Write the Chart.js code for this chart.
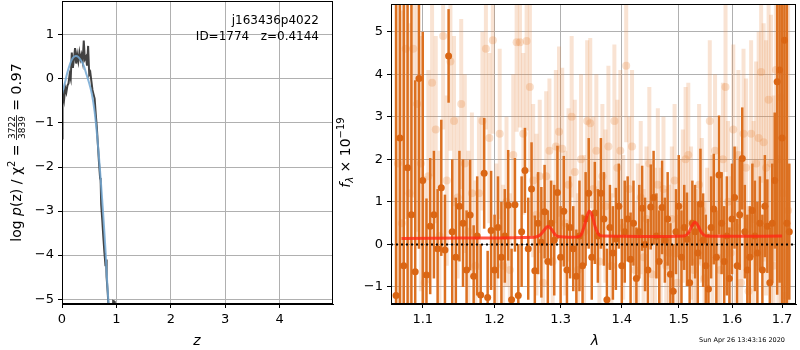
<!DOCTYPE html>
<html>
<head>
<meta charset="utf-8">
<script src="https://cdn.jsdelivr.net/npm/chart.js@4"></script>
<style>
  body { margin: 0; background: #fff; }
  #wrap { position: relative; width: 800px; height: 350px; }
  canvas { position: absolute; top: 0; }
</style>
</head>
<body>
<div id="wrap">
  <canvas id="pz" width="340" height="350" style="left:0"></canvas>
  <canvas id="spec" width="470" height="350" style="left:330px"></canvas>
</div>
<script>
// p(z) panel
const zGrid = [0.00, 0.01, 0.02, 0.04, 0.06, 0.08, 0.10, 0.12, 0.14, 0.16, 0.18, 0.20, 0.22, 0.24, 0.26, 0.28, 0.30, 0.32, 0.34, 0.36, 0.38, 0.40, 0.42, 0.44, 0.46, 0.48, 0.50, 0.52, 0.54, 0.56, 0.58, 0.60, 0.62, 0.64, 0.66, 0.68, 0.70, 0.71, 0.72, 0.74, 0.76, 0.78, 0.79, 0.80, 0.81, 0.82, 0.84, 0.86, 0.88, 0.93, 0.94, 0.96, 0.97];
const logPz = [-1.35, -0.6, -0.25, -0.45, -0.2, -0.3, -0.15, -0.1, 0.1, 0.0, 0.6, 0.25, 0.45, 0.7, 0.35, 0.55, 0.4, 0.6, 0.45, 0.55, 0.4, 0.87, 0.45, 0.5, 0.3, 0.75, 0.1, 0.15, -0.05, -0.25, -0.35, -0.45, -0.8, -1.1, -1.5, -1.9, -2.25, -2.3, -2.85, -3.2, -3.6, -3.95, -4.1, -4.25, -4.1, -4.5, -4.85, -5.3, -5.6, -5.6, -5.04, -5.05, -5.6];
const zFit = [0.00, 0.05, 0.10, 0.15, 0.20, 0.25, 0.30, 0.35, 0.40, 0.45, 0.50, 0.55, 0.60, 0.65, 0.70, 0.75, 0.80, 0.82, 0.85, 0.87];
const logPzFit = [-0.35, -0.1, 0.15, 0.35, 0.48, 0.52, 0.5, 0.42, 0.3, 0.1, -0.1, -0.35, -0.75, -1.35, -2.1, -2.95, -3.9, -4.4, -5.0, -5.4];
const zTicks = [0, 1, 2, 3, 4];

// spectrum panel
const lamDark = [1.065, 1.070, 1.075, 1.080, 1.085, 1.090, 1.095, 1.100, 1.105, 1.110,
  1.115, 1.120, 1.125, 1.130, 1.135, 1.140, 1.145, 1.150, 1.155, 1.160,
  1.165, 1.170, 1.175, 1.180, 1.185, 1.190, 1.195, 1.200, 1.205, 1.210,
  1.215, 1.220, 1.225, 1.230, 1.235, 1.240, 1.245, 1.250, 1.255, 1.260,
  1.265, 1.270, 1.275, 1.280, 1.285, 1.290, 1.295, 1.300, 1.305, 1.310,
  1.315, 1.320, 1.325, 1.330, 1.335, 1.340, 1.345, 1.350, 1.355, 1.360,
  1.365, 1.370, 1.375, 1.380, 1.385, 1.390, 1.395, 1.400, 1.405, 1.410,
  1.415, 1.420, 1.425, 1.430, 1.435, 1.440, 1.445, 1.450, 1.455, 1.460,
  1.465, 1.470, 1.475, 1.480, 1.485, 1.490, 1.495, 1.500, 1.505, 1.510,
  1.515, 1.520, 1.525, 1.530, 1.535, 1.540, 1.545, 1.550, 1.555, 1.560,
  1.565, 1.570, 1.575, 1.580, 1.585, 1.590, 1.595, 1.600, 1.605, 1.610,
  1.615, 1.620, 1.625, 1.630, 1.635, 1.640, 1.645, 1.650, 1.655, 1.660,
  1.665, 1.670, 1.675, 1.680, 1.685, 1.690, 1.695, 1.700, 1.705, 1.710, 1.715];
const fluxDark = [-1.2, 2.5, -0.5, 1.8, 0.7, -0.64, 3.9, 1.5, -0.72, 0.43,
  0.7, -0.1, 1.33, -0.13, 4.43, 0.3, -0.3, 0.9, 0.5, -0.6,
  0.69, -0.75, 0.2, -1.19, 1.67, -1.25, 0.33, -0.6, 0.4, -0.3,
  0.2, 0.92, -1.3, 0.93, -1.2, 0.3, 1.74, -0.1, 1.3, -0.62,
  0.5, 0.05, 0.77, -0.4, 0.5, 0.1, 1.22, -0.3, 0.78, -0.6,
  0.4, -0.1, -0.75, 0.2, -0.5, 0.6, 1.2, -0.3, 0.74, 0.2,
  1.2, 0.6, -1.3, 0.4, -0.2, 0.13, 0.9, -0.5, 0.3, 0.6,
  -0.35, 0.5, -0.8, 0.3, 0.85, 0.0, -0.6, 0.88, 1.1, 0.2,
  -0.4, 0.87, 0.1, 0.6, -0.7, -1.1, 0.3, 0.9, -0.3, 0.4,
  0.12, -0.9, 0.5, 0.3, -0.2, 0.95, 0.1, -0.5, -1.05, 0.4,
  0.83, -0.3, 1.63, 0.5, -0.4, 0.2, -0.8, 0.6, 1.1, -0.5,
  0.7, 2.02, 0.3, -0.6, -0.3, 0.8, 0.2, -0.2, 0.5, -0.6,
  0.9, 0.43, -0.9, 0.5, 1.5, 3.82, 4.1, 2.5, 4.8, 0.5, 0.3];
const errDark = [9, 8, 7, 6, 5, 4.5, 4, 3.5, 1.8, 1.6,
  1.5, 1.4, 1.6, 1.3, 1.1, 1.7, 1.4, 1.3, 1.5, 1.4,
  1.3, 1.2, 1.4, 1.2, 1.3, 1.1, 1.4, 1.3, 1.2, 1.3,
  1.1, 1.3, 1.2, 1.1, 1.2, 1.3, 1.0, 1.2, 1.1, 1.3,
  1.2, 1.3, 1.1, 1.2, 1.0, 1.3, 1.1, 1.2, 1.3, 1.1,
  1.2, 1.0, 1.1, 1.3, 1.2, 1.1, 1.3, 1.0, 1.2, 1.1,
  1.3, 1.1, 1.2, 1.0, 1.1, 1.2, 1.0, 1.1, 1.2, 1.0,
  1.1, 1.0, 1.2, 1.1, 1.0, 1.1, 1.2, 1.0, 1.1, 1.0,
  1.2, 1.1, 1.0, 1.1, 1.2, 1.1, 1.0, 1.2, 1.1, 1.0,
  1.1, 1.2, 1.0, 1.1, 1.2, 1.3, 1.1, 1.2, 1.3, 1.2,
  1.3, 1.1, 1.4, 1.2, 1.3, 1.4, 1.2, 1.3, 1.2, 1.1,
  1.3, 1.2, 1.1, 1.3, 1.2, 1.1, 1.3, 1.2, 1.1, 1.3,
  1.2, 1.1, 1.3, 1.4, 1.6, 5, 5, 6, 7, 8, 1.6];

const lamLight = [1.0675, 1.0725, 1.0775, 1.0825, 1.0875, 1.0925, 1.0975, 1.1025, 1.1075, 1.1125,
  1.1175, 1.1225, 1.1275, 1.1325, 1.1375, 1.1425, 1.1475, 1.1525, 1.1575, 1.1625,
  1.1675, 1.1725, 1.1775, 1.1825, 1.1875, 1.1925, 1.1975, 1.2025, 1.2075, 1.2125,
  1.2175, 1.2225, 1.2275, 1.2325, 1.2375, 1.2425, 1.2475, 1.2525, 1.2575, 1.2625,
  1.2675, 1.2725, 1.2775, 1.2825, 1.2875, 1.2925, 1.2975, 1.3025, 1.3075, 1.3125,
  1.3175, 1.3225, 1.3275, 1.3325, 1.3375, 1.3425, 1.3475, 1.3525, 1.3575, 1.3625,
  1.3675, 1.3725, 1.3775, 1.3825, 1.3875, 1.3925, 1.3975, 1.4025, 1.4075, 1.4125,
  1.4175, 1.4225, 1.4275, 1.4325, 1.4375, 1.4425, 1.4475, 1.4525, 1.4575, 1.4625,
  1.4675, 1.4725, 1.4775, 1.4825, 1.4875, 1.4925, 1.4975, 1.5025, 1.5075, 1.5125,
  1.5175, 1.5225, 1.5275, 1.5325, 1.5375, 1.5425, 1.5475, 1.5525, 1.5575, 1.5625,
  1.5675, 1.5725, 1.5775, 1.5825, 1.5875, 1.5925, 1.5975, 1.6025, 1.6075, 1.6125,
  1.6175, 1.6225, 1.6275, 1.6325, 1.6375, 1.6425, 1.6475, 1.6525, 1.6575, 1.6625,
  1.6675, 1.6725, 1.6775, 1.6825, 1.6875, 1.6925, 1.6975, 1.7025, 1.7075, 1.7125];
const fluxLight = [1.9, 0.5, 4.6, 1.2, 4.6, 3.3, 1.9, -0.9, 1.6, 3.8,
  2.7, 0.2, 4.9, 1.5, 4.3, 2.9, 1.1, 3.3, 1.9, 0.3,
  1.2, -0.5, 1.2, 2.9, 4.6, 2.5, 4.8, 0.1, 2.6, -0.5,
  1.0, -0.6, 2.1, 4.75, 4.75, 2.6, 4.78, 3.7, 1.5, 0.7,
  1.6, -0.9, 1.6, 2.2, -0.4, 2.3, 2.65, 2.25, 0.5, 1.4,
  3.0, 1.7, -0.6, 2.0, 0.3, 2.9, 2.85, 1.3, 2.2, -0.4,
  1.6, 0.9, 2.3, -0.5, 2.9, 1.8, 2.2, 0.4, 4.2, 1.3,
  2.3, -0.6, 0.2, 1.1, -0.3, 0.6, 1.9, -0.7, 0.1, 1.4,
  0.2, 1.3, -0.5, -0.2, 0.6, 1.5, -0.9, 0.3, 0.9, 2.0,
  2.1, 0.5, -0.6, -0.4, 1.4, 0.8, -0.8, 0.2, 2.9, 0.3,
  2.2, -0.3, -0.6, 2.0, 3.7, 1.0, -0.2, 2.7, 0.4, 2.1,
  -0.9, 2.6, 1.8, -1.1, 2.6, 0.6, 1.9, 2.5, 4.05, 2.4,
  1.8, 3.4, 1.9, -0.5, 4.1, 2.0, 3.45, 1.2, -1.2, 0.8];
const errLight = [6, 5, 4, 4, 3.5, 3, 3, 2.5, 2.5, 2.2,
  2.2, 2.0, 2.2, 2.0, 2.1, 2.0, 1.9, 2.0, 2.1, 1.9,
  1.9, 2.0, 1.8, 2.1, 1.9, 2.0, 2.2, 1.8, 2.0, 1.9,
  2.0, 1.8, 1.9, 2.1, 2.0, 1.9, 2.1, 2.0, 1.8, 1.9,
  1.8, 1.9, 2.0, 1.7, 1.9, 1.8, 2.0, 1.9, 1.7, 1.8,
  1.9, 1.7, 1.8, 2.0, 1.8, 1.9, 2.0, 1.7, 1.8, 1.9,
  1.7, 1.8, 1.9, 1.7, 1.8, 1.6, 1.9, 1.7, 1.8, 1.7,
  1.8, 1.6, 1.7, 1.8, 1.6, 1.7, 1.8, 1.6, 1.7, 1.8,
  1.6, 1.7, 1.8, 1.6, 1.7, 1.8, 1.6, 1.7, 1.8, 1.7,
  1.7, 1.8, 1.6, 1.7, 1.9, 1.7, 1.8, 1.6, 1.9, 1.8,
  1.8, 1.9, 1.7, 1.8, 2.0, 1.9, 1.8, 2.0, 1.9, 2.0,
  1.9, 2.0, 2.1, 2.0, 2.2, 2.3, 2.4, 2.5, 2.6, 2.8,
  3, 3.2, 3.5, 4, 4.5, 5, 5.5, 6, 6, 6];

// emission line model
const lamModel = [1.072, 1.15, 1.26, 1.268, 1.274, 1.28, 1.286, 1.292, 1.30, 1.33, 1.336, 1.342, 1.346, 1.350, 1.356, 1.362, 1.37, 1.51, 1.518, 1.524, 1.530, 1.536, 1.542, 1.55, 1.70];
const fluxModel = [0.14, 0.15, 0.17, 0.22, 0.33, 0.42, 0.35, 0.22, 0.18, 0.19, 0.35, 0.65, 0.78, 0.70, 0.40, 0.22, 0.2, 0.2, 0.28, 0.43, 0.52, 0.43, 0.28, 0.2, 0.2];
const lamTicks = [1.1, 1.2, 1.3, 1.4, 1.5, 1.6, 1.7];

const FONT = 'DejaVu Sans';
const minus = v => String(v).replace('-', '\u2212');
const pts = (xs, ys) => xs.map((x, i) => ({ x: x, y: ys[i] }));

// draws a row of text pieces along a rotated baseline
function drawRich(ctx, pieces, cx, cy, rot) {
  ctx.save();
  ctx.translate(cx, cy);
  ctx.rotate(rot);
  ctx.fillStyle = '#000';
  ctx.textBaseline = 'alphabetic';
  ctx.textAlign = 'left';
  let total = 0;
  pieces.forEach(p => {
    ctx.font = p.font;
    p.w = p.frac ? Math.max(ctx.measureText(p.frac[0]).width, ctx.measureText(p.frac[1]).width) + 2 : ctx.measureText(p.t).width;
    total += p.w;
  });
  let x = -total / 2;
  pieces.forEach(p => {
    ctx.font = p.font;
    if (p.frac) {
      ctx.textAlign = 'center';
      ctx.fillText(p.frac[0], x + p.w / 2, -6.5);
      ctx.fillText(p.frac[1], x + p.w / 2, 4);
      ctx.fillRect(x, -5, p.w, 0.8);
      ctx.textAlign = 'left';
    } else {
      ctx.fillText(p.t, x, p.dy || 0);
    }
    x += p.w;
  });
  ctx.restore();
}

function frame(chart) {
  const a = chart.chartArea, ctx = chart.ctx;
  ctx.save();
  ctx.strokeStyle = '#000';
  ctx.lineWidth = 1;
  ctx.strokeRect(a.left + 0.5, a.top + 0.5, a.right - a.left - 1, a.bottom - a.top - 1);
  ctx.restore();
}

// fixed axis box, no extra room for overhanging labels
function fitX(s) { s.height = 46; s.paddingLeft = 0; s.paddingRight = 0; }
function fitY(w) { return s => { s.width = w; s.paddingTop = 0; s.paddingBottom = 0; }; }

function axisOpts(extra) {
  return Object.assign({
    grid: { color: '#b0b0b0', lineWidth: 1, tickLength: 4, tickColor: '#000' },
    border: { color: '#000' },
  }, extra);
}

// ---------- left: p(z) ----------
new Chart(document.getElementById('pz'), {
  type: 'line',
  data: {
    datasets: [
      { data: pts(zFit, logPzFit), borderColor: 'rgba(115,168,212,0.85)', borderWidth: 2, pointRadius: 0, tension: 0.3 },
      { data: pts(zGrid, logPz), borderColor: 'rgba(45,45,45,0.9)', borderWidth: 2, pointRadius: 0 }
    ]
  },
  options: {
    responsive: false,
    animation: false,
    devicePixelRatio: 1,
    layout: { padding: { left: 0, right: 7, top: 1, bottom: 0 } },
    plugins: { legend: { display: false }, tooltip: { enabled: false } },
    scales: {
      x: axisOpts({
        type: 'linear', min: 0, max: 4.98,
        afterFit: fitX,
        afterBuildTicks: s => { s.ticks = zTicks.map(v => ({ value: v })); },
        ticks: { font: { family: FONT, size: 13 }, color: '#000', padding: 4, maxRotation: 0, callback: v => minus(v) }
      }),
      y: axisOpts({
        type: 'linear', min: -5.11, max: 1.77,
        afterFit: fitY(62),
        ticks: { stepSize: 1, includeBounds: false, font: { family: FONT, size: 13 }, color: '#000', padding: 4, callback: v => minus(v) }
      })
    }
  },
  plugins: [{
    id: 'pzDecor',
    afterDraw(chart) {
      frame(chart);
      const ctx = chart.ctx;
      ctx.save();
      ctx.fillStyle = '#000';
      ctx.font = '12px ' + FONT;
      ctx.textAlign = 'right';
      ctx.fillText('j163436p4022', 319, 24);
      ctx.fillText('ID=1774   z=0.4144', 319, 40);
      ctx.font = 'italic 14px ' + FONT;
      ctx.textAlign = 'center';
      ctx.fillText('z', 197, 345);
      ctx.restore();
      const f = '14px ' + FONT;
      drawRich(ctx, [
        { t: 'log ', font: f },
        { t: 'p', font: 'italic ' + f },
        { t: '(z) / \u03c7', font: f },
        { t: '2', font: '10px ' + FONT, dy: -6 },
        { t: ' = ', font: f },
        { frac: ['3722', '3839'], font: '9px ' + FONT },
        { t: ' = 0.97', font: f }
      ], 21, 152.5, -Math.PI / 2);
    }
  }]
});

// ---------- right: spectrum ----------
const errBars = {
  id: 'errBars',
  beforeDatasetDraw(chart, args) {
    const ds = chart.data.datasets[args.index];
    if (!ds.errs) return;
    const ctx = chart.ctx, a = chart.chartArea, ys = chart.scales.y;
    ctx.save();
    ctx.beginPath();
    ctx.rect(a.left, a.top, a.right - a.left, a.bottom - a.top);
    ctx.clip();
    ctx.strokeStyle = ds.errColor;
    ctx.lineWidth = ds.errWidth;
    args.meta.data.forEach((el, i) => {
      const v = ds.data[i].y, e = ds.errs[i];
      ctx.beginPath();
      ctx.moveTo(el.x, ys.getPixelForValue(v - e));
      ctx.lineTo(el.x, ys.getPixelForValue(v + e));
      ctx.stroke();
    });
    ctx.restore();
  },
  afterDatasetsDraw(chart) {
    const ctx = chart.ctx, a = chart.chartArea;
    const y0 = chart.scales.y.getPixelForValue(0);
    ctx.save();
    ctx.strokeStyle = '#000';
    ctx.lineWidth = 2;
    ctx.setLineDash([2, 3]);
    ctx.beginPath();
    ctx.moveTo(a.left, y0);
    ctx.lineTo(a.right, y0);
    ctx.stroke();
    ctx.restore();
  },
  afterDraw(chart) {
    frame(chart);
    const ctx = chart.ctx;
    ctx.save();
    ctx.fillStyle = '#000';
    ctx.font = 'italic 14px ' + FONT;
    ctx.textAlign = 'center';
    ctx.fillText('\u03bb', 265, 345);
    ctx.font = '6.5px ' + FONT;
    ctx.fillText('Sun Apr 26 13:43:16 2020', 412, 342);
    ctx.restore();
    const f = '14px ' + FONT;
    drawRich(ctx, [
      { t: 'f', font: 'italic ' + f },
      { t: '\u03bb', font: 'italic 10px ' + FONT, dy: 3 },
      { t: ' \u00d7 10', font: f },
      { t: '\u221219', font: '10px ' + FONT, dy: -6 }
    ], 20, 152.5, -Math.PI / 2);
  }
};

new Chart(document.getElementById('spec'), {
  type: 'scatter',
  data: {
    datasets: [
      { type: 'line', data: pts(lamModel, fluxModel), borderColor: 'rgba(255,40,20,0.8)', borderWidth: 3, pointRadius: 0, tension: 0.35, order: 0 },
      { data: pts(lamDark, fluxDark), errs: errDark, errColor: 'rgb(220,112,32)', errWidth: 2.5,
        pointRadius: 3.5, pointBackgroundColor: 'rgb(218,102,20)', pointBorderWidth: 0, order: 1 },
      { data: pts(lamLight, fluxLight), errs: errLight, errColor: 'rgba(232,140,70,0.24)', errWidth: 4,
        pointRadius: 4, pointBackgroundColor: 'rgba(232,140,70,0.28)', pointBorderWidth: 0, order: 2 }
    ]
  },
  options: {
    responsive: false,
    animation: false,
    devicePixelRatio: 1,
    layout: { padding: { left: 0, right: 1, top: 1, bottom: 0 } },
    plugins: { legend: { display: false }, tooltip: { enabled: false } },
    scales: {
      x: axisOpts({
        type: 'logarithmic', min: 1.0585, max: 1.729,
        afterFit: fitX,
        afterBuildTicks: s => { s.ticks = lamTicks.map(v => ({ value: v })); },
        ticks: { autoSkip: false, maxRotation: 0, font: { family: FONT, size: 13 }, color: '#000', padding: 4, callback: v => v.toFixed(1) }
      }),
      y: axisOpts({
        type: 'linear', min: -1.4, max: 5.65,
        afterFit: fitY(61),
        ticks: { stepSize: 1, includeBounds: false, font: { family: FONT, size: 13 }, color: '#000', padding: 4, callback: v => minus(v) }
      })
    }
  },
  plugins: [errBars]
});
</script>
</body>
</html>
